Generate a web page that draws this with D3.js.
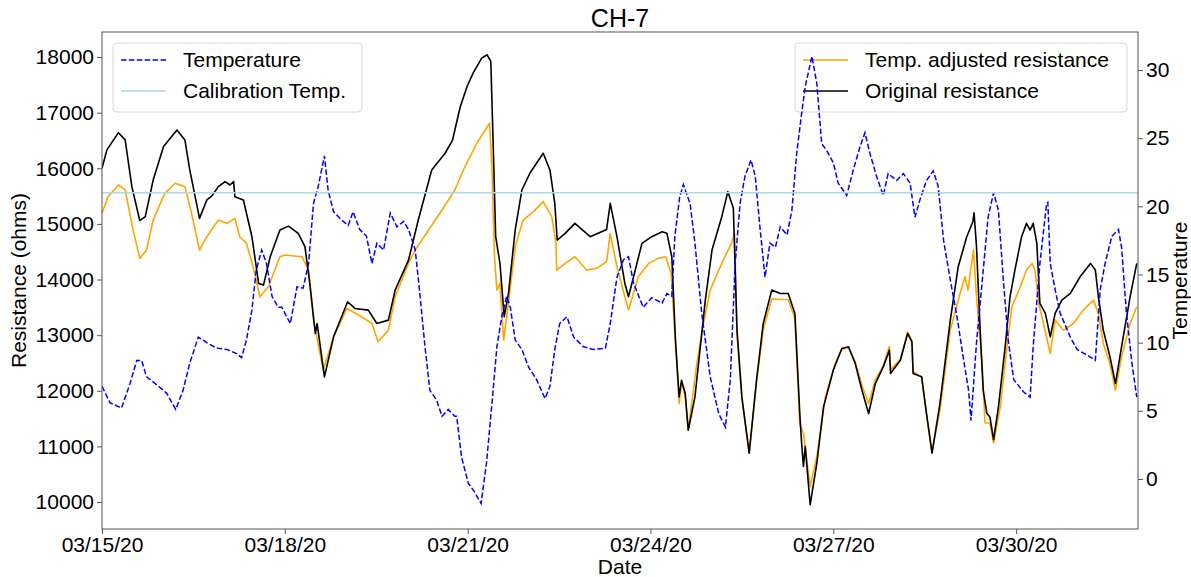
<!DOCTYPE html>
<html>
<head>
<meta charset="utf-8">
<script src="https://cdnjs.cloudflare.com/ajax/libs/d3/7.8.5/d3.min.js"></script>
<style>
    body { margin: 0; background: #fff; }
    text { font-family: "Liberation Sans", Arial, sans-serif; fill: #000; }
</style>
</head>
<body>
<div id="chart"></div>
<script>
"use strict";

// [days after 03/15/20 00:00, ohms]
var tempAdjusted = [
    [0.00,15190],[0.10,15490],[0.27,15700],[0.38,15610],[0.51,14890],[0.62,14380],[0.73,14530],[0.84,15070],
    [1.03,15550],[1.20,15730],[1.36,15670],[1.47,15190],[1.60,14530],[1.72,14770],[1.91,15070],[2.05,15010],
    [2.18,15100],[2.26,14770],[2.37,14650],[2.48,14230],[2.59,13690],[2.73,13870],[2.92,14410],[3.00,14440],
    [3.28,14410],[3.39,14170],[3.47,13270],[3.63,12370],[3.80,12970],[4.02,13480],[4.26,13330],[4.43,13210],
    [4.53,12880],[4.70,13090],[4.81,13690],[5.03,14290],[5.14,14530],[5.36,14890],[5.58,15250],[5.79,15610],
    [5.93,15970],[6.15,16450],[6.36,16810],[6.40,15970],[6.44,14410],[6.48,13810],[6.53,13930],[6.59,12910],
    [6.67,13570],[6.78,14590],[6.91,15070],[7.08,15220],[7.24,15400],[7.38,15130],[7.45,14650],[7.46,14170],
    [7.60,14290],[7.76,14410],[7.95,14170],[8.12,14200],[8.28,14320],[8.34,14830],[8.45,14230],[8.58,13690],
    [8.64,13450],[8.80,14050],[8.97,14290],[9.13,14380],[9.25,14410],[9.34,14110],[9.41,12850],[9.47,11770],
    [9.51,12150],[9.57,11900],[9.62,11290],[9.76,12490],[9.87,13210],[9.98,13810],[10.12,14170],[10.22,14410],
    [10.33,14650],[10.38,14830],[10.42,13000],[10.50,11850],[10.62,10880],[10.74,12150],[10.85,13100],[10.99,13650],
    [11.13,13640],[11.26,13640],[11.37,13300],[11.45,11400],[11.51,11240],[11.62,10280],[11.73,10820],[11.87,11890],
    [12.03,12490],[12.14,12740],[12.25,12780],[12.36,12520],[12.47,12100],[12.58,11770],[12.69,12200],[12.82,12450],
    [12.92,12800],[12.94,12380],[13.10,12560],[13.22,13060],[13.29,12900],[13.31,12350],[13.45,12240],[13.53,11560],
    [13.62,10900],[13.75,11650],[13.92,13090],[14.08,13750],[14.16,14050],[14.21,13810],[14.30,14530],[14.35,13690],
    [14.44,12490],[14.49,11420],[14.57,11420],[14.63,11060],[14.74,11710],[14.85,12790],[14.93,13510],[15.07,13870],
    [15.17,14170],[15.26,14290],[15.31,14170],[15.37,13570],[15.45,13210],[15.56,12670],[15.64,13270],[15.78,13090],
    [15.94,13210],[16.10,13450],[16.27,13630],[16.35,13390],[16.43,12850],[16.54,12490],[16.63,12010],[16.73,12610],
    [16.87,13210],[16.98,13510]
];

var originalRes = [
    [0.00,16000],[0.08,16330],[0.27,16640],[0.38,16510],[0.49,15670],[0.62,15060],[0.71,15130],[0.84,15790],
    [1.01,16390],[1.23,16690],[1.36,16510],[1.44,15970],[1.60,15100],[1.72,15430],[1.80,15500],[1.91,15670],
    [2.02,15760],[2.10,15700],[2.16,15760],[2.18,15490],[2.32,15430],[2.46,14770],[2.57,13930],[2.65,13900],
    [2.76,14410],[2.92,14890],[3.06,14960],[3.22,14830],[3.33,14590],[3.41,13930],[3.50,13030],[3.53,13210],
    [3.65,12250],[3.80,12970],[4.03,13600],[4.15,13480],[4.37,13450],[4.51,13210],[4.70,13270],[4.81,13810],
    [5.03,14350],[5.19,15070],[5.41,15970],[5.63,16270],[5.75,16500],[5.88,17110],[5.99,17470],[6.09,17710],
    [6.23,17980],[6.32,18040],[6.38,17920],[6.42,16390],[6.46,14770],[6.53,14290],[6.60,13330],[6.67,13750],
    [6.78,14890],[6.89,15610],[7.02,15910],[7.24,16270],[7.35,15970],[7.43,15370],[7.47,14710],[7.60,14830],
    [7.76,15010],[8.01,14770],[8.28,14900],[8.34,15370],[8.45,14770],[8.58,13930],[8.64,13690],[8.86,14650],
    [9.02,14770],[9.19,14860],[9.27,14830],[9.35,14410],[9.41,12910],[9.47,11890],[9.51,12190],[9.57,11950],
    [9.62,11290],[9.73,11890],[9.90,13630],[10.01,14530],[10.17,15130],[10.27,15580],[10.36,15280],[10.42,13090],
    [10.50,11890],[10.62,10880],[10.74,12190],[10.85,13210],[10.99,13810],[11.13,13750],[11.26,13750],[11.37,13390],
    [11.45,11590],[11.48,11060],[11.51,10640],[11.54,11000],[11.62,9950],[11.73,10700],[11.84,11710],[12.00,12370],
    [12.14,12760],[12.25,12790],[12.36,12490],[12.47,12010],[12.58,11590],[12.69,12130],[12.82,12430],[12.92,12730],
    [12.94,12310],[13.10,12550],[13.22,13030],[13.29,12880],[13.31,12310],[13.45,12250],[13.53,11590],[13.62,10880],
    [13.75,11770],[13.92,13270],[14.05,14230],[14.19,14770],[14.29,15040],[14.31,15200],[14.35,14590],[14.41,13090],
    [14.46,12010],[14.52,11590],[14.57,11530],[14.63,11120],[14.71,11710],[14.82,12790],[14.90,13690],[14.98,14170],
    [15.09,14770],[15.17,15010],[15.23,14890],[15.28,15010],[15.34,14650],[15.39,13570],[15.48,13390],[15.56,12970],
    [15.64,13390],[15.75,13630],[15.89,13750],[16.05,14050],[16.22,14290],[16.30,14170],[16.35,13690],[16.43,13090],
    [16.54,12610],[16.63,12130],[16.73,12790],[16.87,13690],[16.98,14290]
];

// [days, deg C]
var temperature = [
    [0.00,6.8],[0.13,5.6],[0.32,5.2],[0.46,7.0],[0.57,8.7],[0.65,8.7],[0.73,7.5],[0.90,6.9],[1.06,6.3],[1.21,5.1],
    [1.33,6.5],[1.44,8.5],[1.58,10.4],[1.72,10.0],[1.88,9.6],[2.05,9.5],[2.21,9.2],[2.29,8.9],[2.37,10.2],[2.46,12.4],
    [2.53,15.3],[2.62,16.8],[2.70,15.8],[2.79,13.4],[2.89,12.6],[2.95,12.6],[3.09,11.4],[3.20,14.1],[3.30,14.0],[3.39,15.8],
    [3.47,20.2],[3.55,21.5],[3.65,23.7],[3.71,21.2],[3.80,19.6],[3.93,19.0],[4.04,18.6],[4.12,19.6],[4.23,18.3],[4.34,17.8],
    [4.43,15.8],[4.51,17.3],[4.62,16.8],[4.73,19.5],[4.84,18.5],[4.95,18.9],[5.03,18.3],[5.14,16.8],[5.22,13.4],[5.30,9.7],
    [5.38,6.5],[5.49,5.8],[5.58,4.6],[5.68,5.1],[5.79,4.6],[5.82,4.6],[5.90,1.6],[6.01,-0.3],[6.12,-1.0],[6.22,-1.8],
    [6.31,1.2],[6.40,5.6],[6.48,9.7],[6.56,11.9],[6.64,13.4],[6.70,12.6],[6.78,10.2],[6.89,9.5],[7.00,8.2],[7.13,7.3],
    [7.27,5.9],[7.35,6.8],[7.43,9.5],[7.51,11.4],[7.63,11.9],[7.74,10.4],[7.90,9.7],[8.06,9.5],[8.26,9.6],[8.34,11.4],
    [8.45,14.8],[8.56,16.1],[8.64,16.3],[8.72,14.4],[8.88,12.6],[9.02,13.3],[9.19,12.9],[9.27,13.6],[9.35,13.4],[9.40,17.8],
    [9.48,20.7],[9.54,21.6],[9.65,20.2],[9.73,17.3],[9.84,12.2],[9.98,7.5],[10.12,4.8],[10.23,3.8],[10.31,7.3],[10.39,15.8],
    [10.47,20.2],[10.55,22.2],[10.65,23.4],[10.72,22.2],[10.80,18.3],[10.88,14.8],[10.96,17.3],[11.05,17.0],[11.13,18.5],[11.24,17.9],
    [11.32,19.7],[11.40,23.9],[11.48,26.8],[11.54,28.8],[11.65,31.0],[11.73,29.0],[11.81,24.6],[11.89,24.1],[12.00,23.2],[12.08,21.7],
    [12.22,20.8],[12.33,22.7],[12.44,24.4],[12.52,25.4],[12.60,23.9],[12.71,22.2],[12.82,20.8],[12.90,22.4],[13.04,21.9],[13.15,22.4],
    [13.26,21.7],[13.34,19.2],[13.43,20.6],[13.53,21.9],[13.64,22.6],[13.72,21.5],[13.81,17.5],[13.92,14.6],[14.03,11.9],[14.14,8.7],
    [14.22,6.5],[14.26,4.3],[14.35,10.0],[14.46,15.3],[14.54,19.2],[14.63,21.0],[14.71,19.7],[14.79,14.6],[14.87,10.2],[14.96,7.3],
    [15.12,6.4],[15.23,6.0],[15.28,9.7],[15.39,15.8],[15.50,20.2],[15.52,20.3],[15.56,15.8],[15.64,13.9],[15.72,12.2],[15.89,10.4],
    [16.00,9.5],[16.16,9.1],[16.30,8.7],[16.38,13.9],[16.46,15.8],[16.57,17.8],[16.68,18.3],[16.73,17.0],[16.81,12.2],[16.90,8.5],
    [16.98,6.0]
];

var calibrationTemp = 21;

var resTicks = [10000, 11000, 12000, 13000, 14000, 15000, 16000, 17000, 18000];
var tempTicks = [0, 5, 10, 15, 20, 25, 30];
var dateTickDays = [0, 3, 6, 9, 12, 15];

var startDate = new Date(2020, 2, 15);
var endDay = 17;

var specs = {
    w: 1191,
    h: 577,
    left: 102,
    right: 1138,
    top: 32,
    bottom: 529
};

function toDate(day) {
    return new Date(startDate.getTime() + day * 864e5);
}

var svg = d3.select("#chart").append("svg")
    .attr("width", specs.w)
    .attr("height", specs.h);

var x = d3.scaleTime()
    .domain([toDate(0), toDate(endDay)])
    .range([specs.left, specs.right]);

var yRes = d3.scaleLinear()
    .domain([9515, 18450])
    .range([specs.bottom, specs.top]);

var yTemp = d3.scaleLinear()
    .domain([-3.67, 32.79])
    .range([specs.bottom, specs.top]);

svg.append("clipPath").attr("id", "plot-clip")
    .append("rect")
    .attr("x", specs.left)
    .attr("y", specs.top)
    .attr("width", specs.right - specs.left)
    .attr("height", specs.bottom - specs.top);

var resLine = d3.line()
    .x(function(d) { return x(toDate(d[0])); })
    .y(function(d) { return yRes(d[1]); });

var tempLine = d3.line()
    .x(function(d) { return x(toDate(d[0])); })
    .y(function(d) { return yTemp(d[1]); });

// resistance axes (drawn first, under the temperature axes)
var plot1 = svg.append("g").attr("clip-path", "url(#plot-clip)");

plot1.append("path")
    .datum(tempAdjusted)
    .attr("fill", "none")
    .attr("stroke", "orange")
    .attr("stroke-width", 1.6)
    .attr("stroke-linejoin", "round")
    .attr("d", resLine);

plot1.append("path")
    .datum(originalRes)
    .attr("fill", "none")
    .attr("stroke", "black")
    .attr("stroke-width", 1.6)
    .attr("stroke-linejoin", "round")
    .attr("d", resLine);

function drawLegend(g, x0, y0, w, items) {
    g.append("rect")
        .attr("x", x0)
        .attr("y", y0)
        .attr("width", w)
        .attr("height", 69)
        .attr("rx", 4)
        .attr("fill", "white")
        .attr("fill-opacity", 0.8)
        .attr("stroke", "#d6d6d6");
    items.forEach(function(it, i) {
        var cy = y0 + 17 + i * 31;
        g.append("line")
            .attr("x1", x0 + 8)
            .attr("x2", x0 + 53)
            .attr("y1", cy)
            .attr("y2", cy)
            .attr("stroke", it.color)
            .attr("stroke-width", 1.5)
            .attr("stroke-dasharray", it.dash || null);
        g.append("text")
            .attr("x", x0 + 70)
            .attr("y", cy)
            .attr("dy", "0.35em")
            .style("font-size", "21px")
            .text(it.label);
    });
}

drawLegend(svg.append("g"), 795, 43, 332, [
    { label: "Temp. adjusted resistance", color: "orange" },
    { label: "Original resistance", color: "black" }
]);

// temperature axes on top
var plot2 = svg.append("g").attr("clip-path", "url(#plot-clip)");

plot2.append("path")
    .datum(temperature)
    .attr("fill", "none")
    .attr("stroke", "#0000ff")
    .attr("stroke-width", 1.5)
    .attr("stroke-dasharray", "5.5,2.4")
    .attr("d", tempLine);

plot2.append("line")
    .attr("x1", specs.left)
    .attr("x2", specs.right)
    .attr("y1", yTemp(calibrationTemp))
    .attr("y2", yTemp(calibrationTemp))
    .attr("stroke", "lightblue")
    .attr("stroke-width", 1.5);

drawLegend(svg.append("g"), 113, 43, 249, [
    { label: "Temperature", color: "#0000ff", dash: "5.5,2.4" },
    { label: "Calibration Temp.", color: "lightblue" }
]);

// frame
svg.append("rect")
    .attr("x", specs.left)
    .attr("y", specs.top)
    .attr("width", specs.right - specs.left)
    .attr("height", specs.bottom - specs.top)
    .attr("fill", "none")
    .attr("stroke", "#555")
    .attr("stroke-width", 1);

// axes
var xAxis = d3.axisBottom(x)
    .tickValues(dateTickDays.map(toDate))
    .tickFormat(d3.timeFormat("%m/%d/%y"))
    .tickSize(5)
    .tickPadding(3);

var yAxisLeft = d3.axisLeft(yRes)
    .tickValues(resTicks)
    .tickFormat(d3.format("d"))
    .tickSize(5)
    .tickPadding(3);

var yAxisRight = d3.axisRight(yTemp)
    .tickValues(tempTicks)
    .tickSize(5)
    .tickPadding(3);

function styleAxis(g) {
    g.select(".domain").remove();
    g.selectAll(".tick line").attr("stroke", "#555");
    g.selectAll(".tick text")
        .style("font-size", "21px")
        .style("font-family", "'Liberation Sans', Arial, sans-serif")
        .attr("fill", "#000");
}

svg.append("g")
    .attr("transform", "translate(0," + specs.bottom + ")")
    .call(xAxis)
    .call(styleAxis);

svg.append("g")
    .attr("transform", "translate(" + specs.left + ",0)")
    .call(yAxisLeft)
    .call(styleAxis);

svg.append("g")
    .attr("transform", "translate(" + specs.right + ",0)")
    .call(yAxisRight)
    .call(styleAxis);

// labels
var midX = (specs.left + specs.right) / 2;
var midY = (specs.top + specs.bottom) / 2;

svg.append("text")
    .attr("x", midX)
    .attr("y", 27)
    .attr("text-anchor", "middle")
    .style("font-size", "25px")
    .text("CH-7");

svg.append("text")
    .attr("x", midX)
    .attr("y", 574)
    .attr("text-anchor", "middle")
    .style("font-size", "21px")
    .text("Date");

svg.append("text")
    .attr("transform", "translate(26," + midY + ") rotate(-90)")
    .attr("text-anchor", "middle")
    .style("font-size", "21px")
    .text("Resistance (ohms)");

svg.append("text")
    .attr("transform", "translate(1187," + midY + ") rotate(-90)")
    .attr("text-anchor", "middle")
    .style("font-size", "21px")
    .text("Temperature");
</script>
</body>
</html>
